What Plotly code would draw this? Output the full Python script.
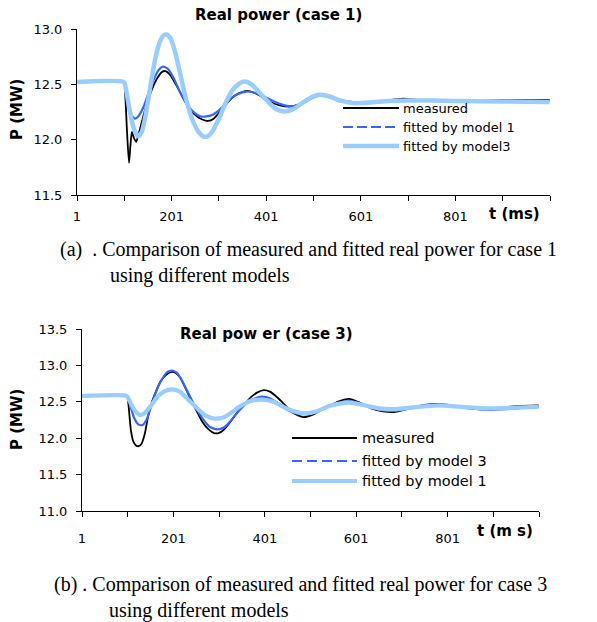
import plotly.graph_objects as go

W, H = 597, 622

# ---------------- data: case 1 (top) ----------------
t1_meas = [1, 100, 103, 107, 111, 114, 117, 121, 126, 132, 141, 150, 159, 170, 180, 188, 197, 210, 225, 240,
           255, 267, 278, 290, 305, 320, 335, 350, 362, 378, 395, 410, 430, 451, 470, 490, 515, 540, 565, 592,
           620, 650, 690, 720, 760, 800, 850, 900, 950, 1000]
p1_meas = [12.52, 12.52, 12.40, 12.05, 11.79, 11.95, 12.07, 12.02, 11.98, 12.06, 12.21, 12.34, 12.45, 12.55, 12.61,
           12.62, 12.59, 12.50, 12.38, 12.27, 12.21, 12.18, 12.17, 12.19, 12.26, 12.34, 12.40, 12.43, 12.44, 12.42,
           12.38, 12.34, 12.31, 12.30, 12.32, 12.37, 12.40, 12.38, 12.35, 12.34, 12.34, 12.35, 12.37, 12.36, 12.35,
           12.35, 12.35, 12.36, 12.36, 12.36]

t1_m1 = [1, 101, 105, 110, 116, 124, 132, 142, 152, 162, 172, 183, 193, 205, 220, 235, 250, 262, 275, 290,
         305, 320, 340, 360, 380, 400, 420, 440, 455, 475, 495, 515, 540, 565, 592, 620, 660, 700, 800, 900, 1000]
p1_m1 = [12.52, 12.52, 12.45, 12.32, 12.22, 12.19, 12.22, 12.30, 12.42, 12.53, 12.62, 12.66, 12.64, 12.56, 12.42,
         12.31, 12.24, 12.21, 12.21, 12.23, 12.28, 12.35, 12.41, 12.435, 12.42, 12.38, 12.34, 12.31, 12.30, 12.32,
         12.37, 12.40, 12.38, 12.35, 12.335, 12.34, 12.35, 12.355, 12.35, 12.35, 12.35]

t1_m3 = [1, 100, 104, 110, 118, 125, 131, 138, 146, 155, 165, 175, 183, 190, 198, 208, 220, 232, 245, 258,
         268, 277, 288, 300, 315, 330, 345, 356, 370, 390, 410, 425, 441, 460, 480, 500, 515, 535, 560, 590,
         620, 660, 700, 800, 900, 1000]
p1_m3 = [12.52, 12.52, 12.47, 12.32, 12.15, 12.06, 12.03, 12.07, 12.22, 12.45, 12.70, 12.87, 12.94, 12.95, 12.92,
         12.80, 12.58, 12.36, 12.18, 12.07, 12.03, 12.03, 12.08, 12.18, 12.33, 12.45, 12.51, 12.525, 12.50, 12.41,
         12.32, 12.27, 12.255, 12.28, 12.34, 12.39, 12.405, 12.39, 12.35, 12.33, 12.335, 12.35, 12.355, 12.35,
         12.345, 12.34]

# ---------------- data: case 3 (bottom) ----------------
t3_meas = [1, 99, 102, 105, 108, 113, 119, 125, 131, 138, 145, 150, 160, 172, 185, 198, 205, 215, 228, 240,
           253, 265, 278, 290, 300, 312, 325, 340, 356, 370, 385, 399, 412, 425, 440, 463, 485, 505, 520, 539,
           560, 586, 605, 634, 660, 684, 705, 730, 755, 780, 810, 840, 865, 890, 920, 950, 1000]
p3_meas = [12.58, 12.58, 12.50, 12.30, 12.11, 11.96, 11.90, 11.89, 11.92, 12.05, 12.28, 12.42, 12.60, 12.77, 12.87,
           12.91, 12.90, 12.84, 12.68, 12.52, 12.36, 12.22, 12.12, 12.07, 12.07, 12.12, 12.22, 12.35, 12.46, 12.56,
           12.63, 12.66, 12.64, 12.58, 12.49, 12.35, 12.29, 12.32, 12.37, 12.43, 12.50, 12.54, 12.50, 12.41, 12.37,
           12.36, 12.39, 12.43, 12.46, 12.47, 12.45, 12.42, 12.40, 12.40, 12.42, 12.44, 12.45]

t3_m3 = [1, 99, 103, 108, 115, 124, 133, 142, 152, 162, 175, 188, 198, 208, 220, 235, 250, 265, 280, 297,
         312, 328, 345, 362, 380, 395, 412, 430, 450, 470, 490, 510, 535, 560, 586, 610, 640, 665, 690, 720,
         750, 780, 810, 850, 890, 930, 970, 1000]
p3_m3 = [12.58, 12.58, 12.52, 12.42, 12.28, 12.19, 12.18, 12.25, 12.43, 12.62, 12.80, 12.91, 12.93, 12.90, 12.79,
         12.60, 12.42, 12.27, 12.16, 12.12, 12.15, 12.25, 12.38, 12.49, 12.55, 12.57, 12.55, 12.48, 12.39, 12.34,
         12.33, 12.35, 12.42, 12.48, 12.51, 12.48, 12.41, 12.38, 12.38, 12.41, 12.44, 12.45, 12.44, 12.41, 12.39,
         12.40, 12.42, 12.43]

t3_m1 = [1, 99, 103, 110, 118, 127, 137, 150, 165, 180, 198, 215, 235, 255, 272, 290, 308, 325, 345, 370,
         395, 420, 445, 470, 491, 515, 545, 586, 620, 650, 684, 720, 780, 830, 890, 950, 1000]
p3_m1 = [12.58, 12.58, 12.54, 12.45, 12.37, 12.32, 12.34, 12.43, 12.56, 12.64, 12.67, 12.64, 12.52, 12.40, 12.31,
         12.27, 12.28, 12.34, 12.43, 12.51, 12.53, 12.50, 12.42, 12.36, 12.34, 12.37, 12.45, 12.49, 12.45, 12.41,
         12.40, 12.42, 12.45, 12.43, 12.41, 12.42, 12.43]

x_tickvals = [1, 101, 201, 301, 401, 501, 601, 701, 801, 901, 1001]
x_ticktext = ["1", "", "201", "", "401", "", "601", "", "801", "", ""]
y1_ticks = [11.5, 12.0, 12.5, 13.0]
y3_ticks = [11.0, 11.5, 12.0, 12.5, 13.0, 13.5]

BLACK, BLUE, LIGHT = "#000000", "#3366FF", "#99CCFF"
SANS = "DejaVu Sans"
SERIF = "Liberation Serif"


def px(x):
    return x / W


def py(y):
    return 1 - y / H


fig = go.Figure()
spl = dict(shape="spline", smoothing=0.6)

# top chart
fig.add_trace(go.Scatter(x=t1_meas, y=p1_meas, mode="lines", line=dict(color=BLACK, width=1.8, **spl),
                         xaxis="x", yaxis="y", showlegend=False))
fig.add_trace(go.Scatter(x=t1_m1, y=p1_m1, mode="lines", line=dict(color=BLUE, width=2.2, **spl),
                         xaxis="x", yaxis="y", showlegend=False))
fig.add_trace(go.Scatter(x=t1_m3, y=p1_m3, mode="lines", line=dict(color=LIGHT, width=4.5, **spl),
                         xaxis="x", yaxis="y", showlegend=False))
# bottom chart
fig.add_trace(go.Scatter(x=t3_meas, y=p3_meas, mode="lines", line=dict(color=BLACK, width=1.8, **spl),
                         xaxis="x2", yaxis="y2", showlegend=False))
fig.add_trace(go.Scatter(x=t3_m3, y=p3_m3, mode="lines", line=dict(color=BLUE, width=2.2, **spl),
                         xaxis="x2", yaxis="y2", showlegend=False))
fig.add_trace(go.Scatter(x=t3_m1, y=p3_m1, mode="lines", line=dict(color=LIGHT, width=4.2, **spl),
                         xaxis="x2", yaxis="y2", showlegend=False))

axis_common = dict(showgrid=False, zeroline=False, showline=True, linecolor="#000000", linewidth=1,
                   ticks="outside", ticklen=5, tickwidth=1, tickcolor="#000000", automargin=False,
                   tickfont=dict(family=SANS, size=13, color="#000000"))

fig.update_layout(
    template="none",
    width=W, height=H, autosize=False,
    margin=dict(l=0, r=0, t=0, b=0, pad=0),
    paper_bgcolor="white", plot_bgcolor="white",
    showlegend=False,
    xaxis=dict(domain=[px(77), px(550)], range=[1, 1001], tickmode="array", tickvals=x_tickvals,
               ticktext=x_ticktext, anchor="y", ticklabelstandoff=4, **axis_common),
    yaxis=dict(domain=[py(195), py(29)], range=[11.5, 13.0], tickmode="array", tickvals=y1_ticks,
               tickformat=".1f", anchor="x", ticklabelstandoff=6, **axis_common),
    xaxis2=dict(domain=[px(82), px(539)], range=[1, 1001], tickmode="array", tickvals=x_tickvals,
                ticktext=x_ticktext, anchor="y2", ticklabelstandoff=10, **axis_common),
    yaxis2=dict(domain=[py(511), py(329)], range=[11.0, 13.5], tickmode="array", tickvals=y3_ticks,
                tickformat=".1f", anchor="x2", ticklabelstandoff=6, **axis_common),
)

ann = []


def text(x, y, s, size, family=SANS, bold=False, xanchor="center", angle=0, align="center"):
    ann.append(dict(x=px(x), y=py(y), xref="paper", yref="paper", text=f"<b>{s}</b>" if bold else s,
                    showarrow=False, xanchor=xanchor, yanchor="middle", textangle=angle, align=align,
                    font=dict(family=family, size=size, color="#000000")))


# titles and axis labels
text(278, 15, "Real power (case 1)", 15, bold=True)
text(266, 334, "Real pow er (case 3)", 15, bold=True)
text(17, 110, "P (MW)", 15, bold=True, angle=-90)
text(17, 420, "P (MW)", 15, bold=True, angle=-90)
text(514, 214, "t (ms)", 15, bold=True)
text(505, 531, "t (m s)", 15, bold=True)

# legends
shapes = []
leg_top = [("measured", BLACK, 1.8, "solid", 108), ("fitted by model 1", BLUE, 2.2, "10px,4px", 127),
           ("fitted by model3", LIGHT, 4.5, "solid", 146)]
for label, col, w, dash, y in leg_top:
    shapes.append(dict(type="line", xref="paper", yref="paper", x0=px(343), x1=px(399), y0=py(y), y1=py(y),
                       line=dict(color=col, width=w, dash=dash)))
    text(401, y, label, 13, xanchor="left")

leg_bot = [("measured", BLACK, 1.8, "solid", 438), ("fitted by model 3", BLUE, 2.2, "10px,5px", 461),
           ("fitted by model 1", LIGHT, 4.2, "solid", 481)]
for label, col, w, dash, y in leg_bot:
    shapes.append(dict(type="line", xref="paper", yref="paper", x0=px(292), x1=px(357), y0=py(y), y1=py(y),
                       line=dict(color=col, width=w, dash=dash)))
    text(360, y, label, 14.5, xanchor="left")

# captions (two lines each, second line indented)
NB = "\u00a0"
text(58, 262, "(a)" + NB + " . Comparison of measured and fitted real power for case 1<br>"
     + NB * 10 + "using different models", 20, family=SERIF, xanchor="left", align="left")
text(52, 597, "(b) . Comparison of measured and fitted real power for case 3<br>"
     + NB * 11 + "using different models", 20, family=SERIF, xanchor="left", align="left")

fig.update_layout(annotations=ann, shapes=shapes)
fig.write_html("out.html", config={"displayModeBar": False},
               post_script="document.body.style.margin='0px';document.body.style.overflow='hidden';")
